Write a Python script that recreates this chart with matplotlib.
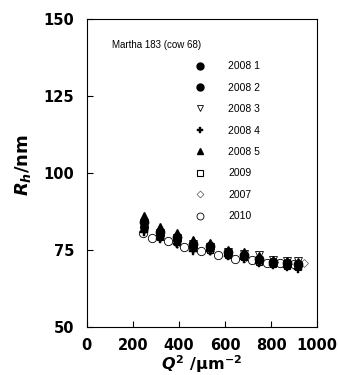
import matplotlib
matplotlib.use("Agg")
import matplotlib.pyplot as plt
from matplotlib.lines import Line2D

plt.rcParams['font.family'] = ['Liberation Sans', 'DejaVu Sans']
plt.rcParams['mathtext.fontset'] = 'custom'
plt.rcParams['mathtext.rm'] = 'DejaVu Sans:bold'
plt.rcParams['mathtext.it'] = 'DejaVu Sans:bold:italic'
plt.rcParams['mathtext.bf'] = 'DejaVu Sans:bold'

# Scattering vector squared (um^-2) for the 2008/2009 runs
q2_main = [248, 316, 390, 460, 535, 614, 683, 749, 810, 871, 919]
# Hydrodynamic radius (nm) per sample
rh_2008_1 = [84.0, 81.0, 79.3, 77.0, 76.2, 74.3, 73.4, 72.2, 71.2, 70.8, 70.5]
rh_2008_2 = [82.5, 80.0, 78.3, 76.0, 75.5, 73.8, 73.0, 71.6, 70.8, 70.3, 70.0]
rh_2008_3 = [83.0, 80.5, 78.8, 76.8, 76.0, 74.5, 73.7, 73.4, 71.9, 71.5, 71.4]
rh_2008_4 = [81.0, 78.5, 76.8, 74.8, 74.6, 72.9, 72.2, 70.8, 70.2, 69.5, 69.0]
rh_2008_5 = [86.2, 82.6, 80.6, 78.3, 77.4, 75.1, 74.3, 72.9, 71.7, 71.3, 71.0]
rh_2009 = [82.0, 79.3, 77.5, 75.5, 75.0, 73.3, 72.6, 71.2, 70.5, 69.9, 69.5]
q2_2007 = [250, 318, 392, 462, 537, 616, 685, 751, 812, 873, 945]
rh_2007 = [81.5, 79.0, 77.0, 75.3, 74.8, 73.5, 72.5, 71.8, 71.0, 70.6, 70.7]
q2_2010 = [245, 281, 351, 422, 496, 571, 643, 716, 781, 841, 900]
rh_2010 = [80.4, 78.8, 78.0, 76.0, 74.8, 73.4, 72.0, 71.8, 70.9, 70.7, 70.6]

series = [
    ("2008 1", q2_main, rh_2008_1, dict(marker='o', mfc='black', mec='black', ms=6.0)),
    ("2008 2", q2_main, rh_2008_2, dict(marker='o', mfc='black', mec='black', ms=5.5)),
    ("2008 3", q2_main, rh_2008_3, dict(marker='v', mfc='white', mec='black', ms=5.5, mew=0.6)),
    ("2008 4", q2_main, rh_2008_4, dict(marker='P', mfc='black', mec='black', ms=5.5, mew=0.3)),
    ("2008 5", q2_main, rh_2008_5, dict(marker='^', mfc='black', mec='black', ms=6.0)),
    ("2009", q2_main, rh_2009, dict(marker='s', mfc='white', mec='black', ms=5.0, mew=0.8)),
    ("2007", q2_2007, rh_2007, dict(marker='D', mfc='white', mec='#555555', ms=3.8, mew=0.5)),
    ("2010", q2_2010, rh_2010, dict(marker='o', mfc='white', mec='black', ms=6.0, mew=0.6)),
]

legend_style = {
    "2008 1": dict(ms=5.0), "2008 2": dict(ms=5.0), "2008 3": dict(ms=4.5),
    "2008 4": dict(ms=5.0), "2008 5": dict(ms=5.0), "2009": dict(ms=4.5),
    "2007": dict(ms=3.5), "2010": dict(ms=5.0),
}

fig = plt.figure(figsize=(3.38, 3.75), dpi=100)
ax = fig.add_axes([0.257, 0.128, 0.681, 0.821])

# draw back-to-front so filled markers stack over the open ones
draw_order = ["2010", "2007", "2009", "2008 3", "2008 4", "2008 2", "2008 1", "2008 5"]
lookup = {s[0]: s for s in series}
for name in draw_order:
    _, x, y, st = lookup[name]
    ax.plot(x, y, linestyle='none', **st)

ax.set_xlim(0, 1000)
ax.set_ylim(50, 150)
ax.set_xticks([0, 200, 400, 600, 800, 1000])
ax.set_yticks([50, 75, 100, 125, 150])
ax.tick_params(direction='in', length=4, width=0.8, top=False, right=False,
               labelsize=10.5)
ax.tick_params(axis='y', pad=9)
ax.tick_params(axis='x', pad=8)
for lab in ax.get_xticklabels() + ax.get_yticklabels():
    lab.set_fontweight('bold')
    lab.set_fontfamily('DejaVu Sans')
for sp in ax.spines.values():
    sp.set_linewidth(0.8)

ax.set_ylabel(r'$R_h$/nm', fontsize=13, fontweight='bold',
              fontfamily='DejaVu Sans')
ax.yaxis.set_label_coords(-0.235, 0.526)
ax.set_xlabel(r'$Q^2$ /μm$^{-2}$', fontsize=11.5, fontweight='bold',
              fontfamily='DejaVu Sans', labelpad=0)

ax.text(0.11, 0.915, "Martha 183 (cow 68)", transform=ax.transAxes,
        fontsize=7, ha='left', va='center')

handles = []
for s in series:
    st = dict(s[3])
    st.update(legend_style[s[0]])
    handles.append(Line2D([], [], linestyle='none', **st))
labels = [s[0] for s in series]
ax.legend(handles, labels, loc='upper left', bbox_to_anchor=(0.45, 0.877),
          frameon=False, fontsize=7.5, labelspacing=1.1, handlelength=1.0,
          handletextpad=2.2, borderaxespad=0)

fig.savefig("out.png", dpi=100)
